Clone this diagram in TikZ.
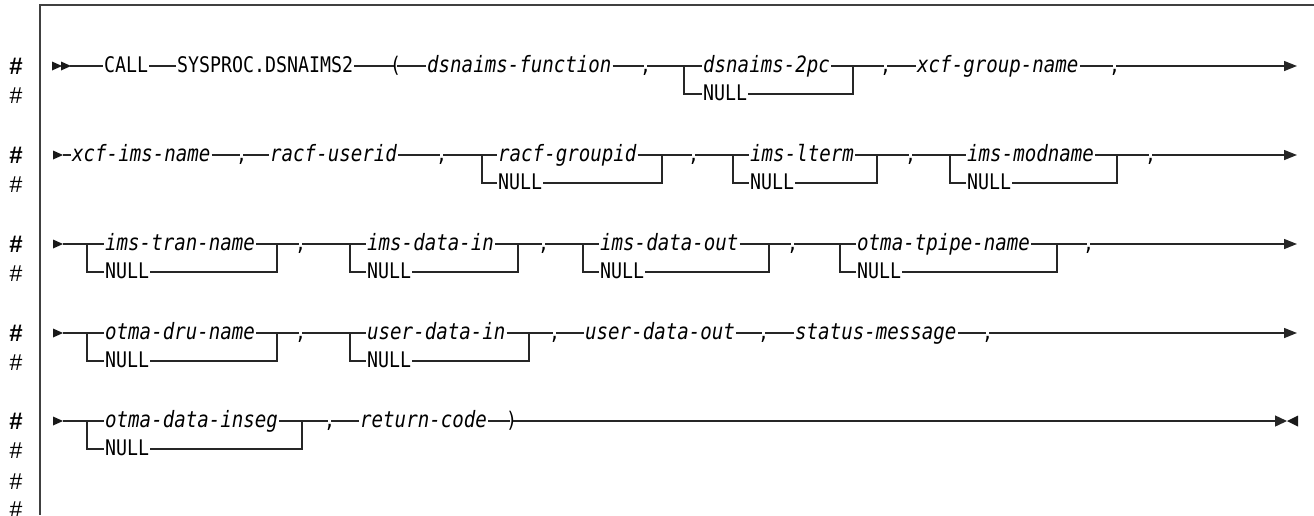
\documentclass[tikz,border=0pt]{standalone}
\usepackage{fontspec}
\setmonofont[FakeStretch=0.85]{DejaVu Sans Mono}
\setsansfont{Liberation Sans}
\usetikzlibrary{arrows.meta}

\begin{document}
\begin{tikzpicture}[x=1pt, y=-1pt,
  rail/.style={line width=1.4pt, color=black!85},
  kw/.style={anchor=west, inner xsep=1pt, inner ysep=0pt, text height=17pt, text depth=4pt,
    font=\ttfamily\fontsize{21.5}{23}\selectfont},
  var/.style={kw, font=\ttfamily\itshape\fontsize{22.5}{24}\selectfont},
  punct/.style={kw, inner xsep=-4pt},
  tag/.style={inner sep=0pt, font=\sffamily\fontsize{23}{25}\selectfont},
  boldtag/.style={inner sep=0pt, font=\sffamily\bfseries\fontsize{24}{26}\selectfont},
  endtip/.style={-{Triangle[length=13pt,width=10pt]}},
  startmark/.pic={\fill[black!90] (0,-4.5) -- (10,0) -- (0,4.5) -- cycle;}]
  \useasboundingbox (0,0) rectangle (1314,515);
  % frame
  \draw[line width=1.8pt, black!75] (1314,5) -- (40,5) -- (40,515);
  % change marks in the margin
  \foreach \r in {66,155,244,333,421} {
    \node[boldtag] (hb\r) at (16,\r) {\#};
    \node[tag] (hr\r) at (16,\r+30) {\#};
  }
  \node[tag] (hx1) at (16,482) {\#};
  \node[tag] (hx2) at (16,510) {\#};

  % Row 1: CALL ... xcf-group-name
  \begin{scope}[shift={(0,66)}]
    \pic at (52,0) {startmark};
    \pic at (61,0) {startmark};
    \coordinate (r1s) at (70,0);
    \node[kw] (call) at (103,0) {CALL};
    \node[kw] (sysproc) at (176,0) {SYSPROC.DSNAIMS2};
    \node[punct] (lpar) at (394,0) {(};
    \node[var] (fn) at (426,0) {dsnaims-function};
    \node[punct] (c1) at (644,0) {,};
    \coordinate (j1a) at (684,0);
    \node[var] (pc) at (702,0) {dsnaims-2pc};
    \node[kw] (n1) at (702,28) {NULL};
    \coordinate (j1b) at (853,0);
    \node[punct] (c2) at (884,0) {,};
    \node[var] (grp) at (916,0) {xcf-group-name};
    \node[punct] (c3) at (1113,0) {,};
    \coordinate (e1) at (1297,0);
    \draw[rail] (r1s) -- (call) -- (sysproc) -- (lpar) -- (fn) -- (c1) -- (pc);
    \draw[rail] (j1a) |- (n1);
    \draw[rail] (n1) -| (j1b);
    \draw[rail] (pc) -- (c2) -- (grp) -- (c3);
    \draw[rail, endtip] (c3) -- (e1);
  \end{scope}

  % Row 2: xcf-ims-name ... ims-modname
  \begin{scope}[shift={(0,155)}]
    \pic at (53,0) {startmark};
    \coordinate (r2s) at (63,0);
    \node[var] (imsn) at (71,0) {xcf-ims-name};
    \node[punct] (c4) at (240,0) {,};
    \node[var] (uid) at (269,0) {racf-userid};
    \node[punct] (c5) at (440,0) {,};
    \coordinate (j2a) at (482,0);
    \node[var] (gid) at (497,0) {racf-groupid};
    \node[kw] (n2) at (497,28) {NULL};
    \coordinate (j2b) at (662,0);
    \node[punct] (c6) at (692,0) {,};
    \coordinate (j2c) at (733,0);
    \node[var] (lterm) at (749,0) {ims-lterm};
    \node[kw] (n3) at (749,28) {NULL};
    \coordinate (j2d) at (877,0);
    \node[punct] (c7) at (909,0) {,};
    \coordinate (j2e) at (950,0);
    \node[var] (modn) at (966,0) {ims-modname};
    \node[kw] (n4) at (966,28) {NULL};
    \coordinate (j2f) at (1117,0);
    \node[punct] (c8) at (1149,0) {,};
    \coordinate (e2) at (1297,0);
    \draw[rail] (r2s) -- (imsn) -- (c4) -- (uid) -- (c5) -- (gid) -- (c6) -- (lterm) -- (c7) -- (modn) -- (c8);
    \draw[rail] (j2a) |- (n2);
    \draw[rail] (n2) -| (j2b);
    \draw[rail] (j2c) |- (n3);
    \draw[rail] (n3) -| (j2d);
    \draw[rail] (j2e) |- (n4);
    \draw[rail] (n4) -| (j2f);
    \draw[rail, endtip] (c8) -- (e2);
  \end{scope}

  % Row 3: ims-tran-name ... otma-tpipe-name
  \begin{scope}[shift={(0,244)}]
    \pic at (53,0) {startmark};
    \coordinate (r3s) at (63,0);
    \coordinate (j3a) at (87,0);
    \node[var] (tran) at (104,0) {ims-tran-name};
    \node[kw] (n5) at (104,28) {NULL};
    \coordinate (j3b) at (277,0);
    \node[punct] (c9) at (299,0) {,};
    \coordinate (j3c) at (350,0);
    \node[var] (din) at (366,0) {ims-data-in};
    \node[kw] (n6) at (366,28) {NULL};
    \coordinate (j3d) at (518,0);
    \node[punct] (c10) at (542,0) {,};
    \coordinate (j3e) at (583,0);
    \node[var] (dout) at (599,0) {ims-data-out};
    \node[kw] (n7) at (599,28) {NULL};
    \coordinate (j3f) at (769,0);
    \node[punct] (c11) at (791,0) {,};
    \coordinate (j3g) at (840,0);
    \node[var] (tpipe) at (856,0) {otma-tpipe-name};
    \node[kw] (n8) at (856,28) {NULL};
    \coordinate (j3h) at (1057,0);
    \node[punct] (c12) at (1087,0) {,};
    \coordinate (e3) at (1297,0);
    \draw[rail] (r3s) -- (tran) -- (c9) -- (din) -- (c10) -- (dout) -- (c11) -- (tpipe) -- (c12);
    \draw[rail] (j3a) |- (n5);
    \draw[rail] (n5) -| (j3b);
    \draw[rail] (j3c) |- (n6);
    \draw[rail] (n6) -| (j3d);
    \draw[rail] (j3e) |- (n7);
    \draw[rail] (n7) -| (j3f);
    \draw[rail] (j3g) |- (n8);
    \draw[rail] (n8) -| (j3h);
    \draw[rail, endtip] (c12) -- (e3);
  \end{scope}

  % Row 4: otma-dru-name ... status-message
  \begin{scope}[shift={(0,333)}]
    \pic at (53,0) {startmark};
    \coordinate (r4s) at (63,0);
    \coordinate (j4a) at (87,0);
    \node[var] (dru) at (104,0) {otma-dru-name};
    \node[kw] (n9) at (104,28) {NULL};
    \coordinate (j4b) at (277,0);
    \node[punct] (c13) at (299,0) {,};
    \coordinate (j4c) at (350,0);
    \node[var] (udin) at (366,0) {user-data-in};
    \node[kw] (n10) at (366,28) {NULL};
    \coordinate (j4d) at (529,0);
    \node[punct] (c14) at (553,0) {,};
    \node[var] (udout) at (584,0) {user-data-out};
    \node[punct] (c15) at (762,0) {,};
    \node[var] (smsg) at (794,0) {status-message};
    \node[punct] (c16) at (986,0) {,};
    \coordinate (e4) at (1297,0);
    \draw[rail] (r4s) -- (dru) -- (c13) -- (udin) -- (c14) -- (udout) -- (c15) -- (smsg) -- (c16);
    \draw[rail] (j4a) |- (n9);
    \draw[rail] (n9) -| (j4b);
    \draw[rail] (j4c) |- (n10);
    \draw[rail] (n10) -| (j4d);
    \draw[rail, endtip] (c16) -- (e4);
  \end{scope}

  % Row 5: otma-data-inseg, return-code and end of statement
  \begin{scope}[shift={(0,421)}]
    \pic at (53,0) {startmark};
    \coordinate (r5s) at (63,0);
    \coordinate (j5a) at (87,0);
    \node[var] (inseg) at (104,0) {otma-data-inseg};
    \node[kw] (n11) at (104,28) {NULL};
    \coordinate (j5b) at (302,0);
    \node[punct] (c17) at (328,0) {,};
    \node[var] (rc) at (359,0) {return-code};
    \node[punct] (rpar) at (510,0) {)};
    \coordinate (e5) at (1287,0);
    \draw[rail] (r5s) -- (inseg) -- (c17) -- (rc) -- (rpar);
    \draw[rail] (j5a) |- (n11);
    \draw[rail] (n11) -| (j5b);
    \draw[rail, -{Triangle[length=12pt,width=11pt]}] (rpar) -- (e5);
    \fill[black!90] (1298,-5.5) -- (e5) -- (1298,5.5) -- cycle;
  \end{scope}
\end{tikzpicture}
\end{document}
